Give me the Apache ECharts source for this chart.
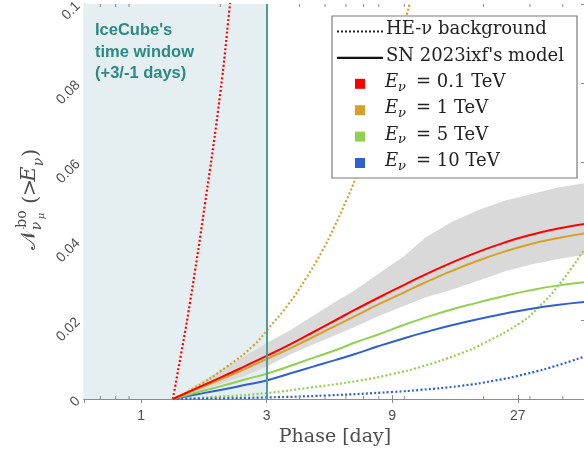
<!DOCTYPE html>
<html>
<head>
<meta charset="utf-8">
<script src="https://cdn.jsdelivr.net/npm/echarts@6/dist/echarts.min.js"></script>
<style>
  html, body { margin: 0; padding: 0; background: #ffffff; }
  #chart { width: 584px; height: 458px; }
</style>
</head>
<body>
<div id="chart"></div>
<script>
// Phase axis limits (days) and the IceCube +3/-1 day window
const xMin = 0.607;
const xMax = 49;
const windowStart = 0.607;
const windowEnd = 3;
const xTickLabels = [1, 3, 9, 27];
const minorTickDays = [0.7, 0.8, 0.9, 2, 4, 5, 6, 7, 8, 10, 20, 30, 40];

// SN 2023ixf model curves (solid) and uncertainty band
const modelDays  = [1.32, 1.6, 2, 2.5, 3, 3.7, 4.5, 5.5, 6.5, 8, 10, 12, 15, 19, 24, 30, 38, 49];
const modelRed   = [0, 0.0025, 0.0054, 0.0084, 0.0109, 0.0139, 0.0169, 0.0200, 0.0226, 0.0257, 0.0289, 0.0315, 0.0344, 0.0372, 0.0396, 0.0415, 0.0431, 0.0444];
const modelGold  = [0, 0.0023, 0.0049, 0.0077, 0.0101, 0.0129, 0.0157, 0.0186, 0.0210, 0.0240, 0.0270, 0.0295, 0.0323, 0.0350, 0.0373, 0.0392, 0.0407, 0.0420];
const modelGreen = [0, 0.0015, 0.0032, 0.0050, 0.0064, 0.0084, 0.0104, 0.0124, 0.0143, 0.0164, 0.0188, 0.0206, 0.0226, 0.0244, 0.0261, 0.0275, 0.0287, 0.0296];
const modelBlue  = [0, 0.0011, 0.0023, 0.0036, 0.0047, 0.0065, 0.0082, 0.0099, 0.0114, 0.0134, 0.0154, 0.0169, 0.0186, 0.0202, 0.0216, 0.0228, 0.0238, 0.0246];
const bandUpper  = [0, 0.0034, 0.0072, 0.0110, 0.0142, 0.0175, 0.0211, 0.0247, 0.0276, 0.0318, 0.0362, 0.0408, 0.0447, 0.0478, 0.0502, 0.0518, 0.0535, 0.0547];
const bandLower  = [0, 0.0017, 0.0038, 0.0060, 0.0082, 0.0113, 0.0138, 0.0162, 0.0183, 0.0210, 0.0236, 0.0257, 0.0276, 0.0299, 0.0323, 0.0340, 0.0354, 0.0366];

// HE-nu background (dotted)
const bgRedDays   = [1.32, 1.42, 1.535, 1.75, 2.0, 2.17, 2.3];
const bgRed       = [0, 0.0115, 0.0245, 0.0495, 0.0775, 0.0990, 0.1140];
const bgGoldDays  = [1.32, 1.58, 2.12, 2.67, 3.05, 3.63, 4.2, 4.87, 5.38, 6.06, 6.52, 8.1, 9.22, 10.5, 11.2];
const bgGold      = [0, 0.0026, 0.0082, 0.0135, 0.0179, 0.0240, 0.0302, 0.0374, 0.0431, 0.0507, 0.0558, 0.0735, 0.0860, 0.1003, 0.1080];
const bgGreenDays = [1.32, 2.0, 3.0, 4.39, 6.8, 9.1, 11.5, 16.3, 20.0, 27.6, 31.9, 39.0, 49];
const bgGreen     = [0, 0.0006, 0.0015, 0.0029, 0.0047, 0.0064, 0.0081, 0.0115, 0.0141, 0.0193, 0.0228, 0.0292, 0.0385];
const bgBlueDays  = [1.32, 3.0, 5.08, 9.1, 11.5, 16.3, 21.8, 29.2, 39.0, 49];
const bgBlue      = [0, 0.0004, 0.0009, 0.0018, 0.0023, 0.0033, 0.0046, 0.0064, 0.0087, 0.0109];

const energyLabels = ['0.1', '1', '5', '10'];
const colors = ['#ff0000', '#d6a12a', '#92d050', '#3060d0'];

const pairs = (xs, ys) => xs.map((x, i) => [x, ys[i]]);
const axisGray = '#8c8c8c';
const textGray = '#4d4d4d';
const serif = '"DejaVu Serif", serif';

const chart = echarts.init(document.getElementById('chart'), null, { renderer: 'canvas' });

function solid(name, days, vals, color, z) {
  return {
    name, type: 'line', data: pairs(days, vals), symbol: 'none', smooth: 0.5,
    lineStyle: { color, width: 2 }, z, silent: true
  };
}
function dotted(name, days, vals, color) {
  return {
    name, type: 'line', data: pairs(days, vals), symbol: 'none', smooth: 0.5,
    lineStyle: { color, width: 2.2, type: [2, 2.2] }, z: 3, silent: true
  };
}

const legendRows = [29.5, 55.9, 82.3, 108.7, 135.1, 161.5];
const legendChildren = [
  { type: 'rect', shape: { x: 332, y: 16, width: 245, height: 162 }, style: { fill: '#ffffff', stroke: '#7a7a7a', lineWidth: 1.2 } },
  { type: 'line', shape: { x1: 337, y1: legendRows[0] + 2, x2: 383, y2: legendRows[0] + 2 }, style: { stroke: '#222', lineWidth: 2, lineDash: [2, 2] } },
  { type: 'text', x: 386, y: legendRows[0], style: { text: 'HE-ν background', font: '18px ' + serif, fill: '#222', verticalAlign: 'middle' } },
  { type: 'line', shape: { x1: 337, y1: legendRows[1] + 2, x2: 383, y2: legendRows[1] + 2 }, style: { stroke: '#111', lineWidth: 2.4 } },
  { type: 'text', x: 386, y: legendRows[1], style: { text: "SN 2023ixf's model", font: '18px ' + serif, fill: '#222', verticalAlign: 'middle' } }
];
energyLabels.forEach((e, i) => {
  const y = legendRows[i + 2];
  legendChildren.push(
    { type: 'rect', shape: { x: 355, y: y - 3.5, width: 10, height: 10 }, style: { fill: colors[i] } },
    { type: 'text', x: 385, y, style: { text: 'E', font: 'italic 18px ' + serif, fill: '#222', verticalAlign: 'middle' } },
    { type: 'text', x: 398, y: y + 5, style: { text: 'ν', font: 'italic 13px ' + serif, fill: '#222', verticalAlign: 'middle' } },
    { type: 'text', x: 416, y, style: { text: '= ' + e + ' TeV', font: '18px ' + serif, fill: '#222', verticalAlign: 'middle' } }
  );
});
legendChildren.forEach(c => { c.z = 100; c.silent = true; });

const yTitle = {
  type: 'group', x: 37, y: 200, rotation: Math.PI / 2, silent: true,
  children: [
    { type: 'text', x: -40, y: -7, style: { text: '𝒩', font: '21px ' + serif, fill: textGray, align: 'center', verticalAlign: 'middle' } },
    { type: 'text', x: -19, y: -15, style: { text: 'bo', font: '14px ' + serif, fill: textGray, align: 'center', verticalAlign: 'middle' } },
    { type: 'text', x: -26, y: 0, style: { text: 'ν', font: 'italic 14px ' + serif, fill: textGray, align: 'center', verticalAlign: 'middle' } },
    { type: 'text', x: -16, y: 4, style: { text: 'μ', font: 'italic 10px ' + serif, fill: textGray, align: 'center', verticalAlign: 'middle' } },
    { type: 'text', x: 0, y: -5, style: { text: '(', font: '21px ' + serif, fill: textGray, align: 'center', verticalAlign: 'middle' } },
    { type: 'text', x: 12.5, y: -6, style: { text: '>', font: '21px ' + serif, fill: textGray, align: 'center', verticalAlign: 'middle' } },
    { type: 'text', x: 26, y: -7, style: { text: 'E', font: 'italic 21px ' + serif, fill: textGray, align: 'center', verticalAlign: 'middle' } },
    { type: 'text', x: 38, y: 2, style: { text: 'ν', font: 'italic 14px ' + serif, fill: textGray, align: 'center', verticalAlign: 'middle' } },
    { type: 'text', x: 47, y: -5, style: { text: ')', font: '21px ' + serif, fill: textGray, align: 'center', verticalAlign: 'middle' } }
  ]
};

const iceText = ["IceCube's", 'time window', '(+3/-1 days)'].map((t, i) => ({
  type: 'text', x: 95, y: 30.5 + i * 21.7, z: 50, silent: true,
  style: { text: t, font: 'bold 16.5px "Liberation Sans", Arial, sans-serif', fill: '#2b8a84', verticalAlign: 'middle' }
}));

const xAxisCommon = {
  type: 'log', logBase: 3, min: xMin, max: xMax,
  axisLine: { show: true, lineStyle: { color: axisGray, width: 1.2 } },
  axisTick: { show: true, inside: true, length: 4, lineStyle: { color: axisGray } },
  splitLine: { show: false }, minorTick: { show: false }, minorSplitLine: { show: false }
};
const yAxisCommon = {
  type: 'value', min: 0, max: 0.1, interval: 0.02,
  axisLine: { show: true, lineStyle: { color: axisGray, width: 1.2 } },
  axisTick: { show: true, inside: true, length: 5, lineStyle: { color: axisGray } },
  splitLine: { show: false }
};

const option = {
  animation: false,
  backgroundColor: '#ffffff',
  grid: { left: 84, top: 4, width: 502, height: 395, outerBoundsMode: 'none', containLabel: false },
  xAxis: [
    Object.assign({}, xAxisCommon, {
      position: 'bottom',
      name: 'Phase [day]', nameLocation: 'middle', nameGap: 28,
      nameTextStyle: { fontFamily: 'DejaVu Serif', fontSize: 19, color: textGray },
      axisLabel: {
        show: true, margin: 10, color: textGray, fontSize: 14, fontFamily: 'Liberation Sans, Arial, sans-serif',
        showMinLabel: false, showMaxLabel: false,
        formatter: v => (xTickLabels.some(t => Math.abs(t - v) < 1e-6) ? String(Math.round(v)) : '')
      }
    }),
    Object.assign({}, xAxisCommon, { position: 'top', axisLabel: { show: false } })
  ],
  yAxis: [
    Object.assign({}, yAxisCommon, {
      position: 'left',
      axisLabel: {
        show: true, rotate: 45, margin: 6, color: textGray, fontSize: 14,
        fontFamily: 'Liberation Sans, Arial, sans-serif',
        formatter: v => String(+v.toFixed(2))
      }
    }),
    Object.assign({}, yAxisCommon, { position: 'right', axisLabel: { show: false } })
  ],
  graphic: [yTitle].concat(iceText, legendChildren),
  series: [
    {
      // IceCube window shading
      name: 'window', type: 'line', data: [], z: 1, silent: true,
      markArea: {
        silent: true, itemStyle: { color: '#e5eef0' },
        data: [[{ xAxis: windowStart, yAxis: 0 }, { xAxis: windowEnd, yAxis: 0.1 }]]
      }
    },
    {
      // uncertainty band of the model, upper edge forward then lower edge back
      name: 'band', type: 'custom', z: 2, silent: true,
      data: [[modelDays[0], 0]], encode: { x: 0, y: 1 },
      renderItem: (params, api) => {
        const pts = [];
        modelDays.forEach((d, i) => pts.push(api.coord([d, bandUpper[i]])));
        for (let i = modelDays.length - 1; i >= 0; i--) pts.push(api.coord([modelDays[i], bandLower[i]]));
        return {
          type: 'polygon', shape: { points: pts },
          style: { fill: '#d9d9d9' },
          clipPath: { type: 'rect', shape: { x: params.coordSys.x, y: params.coordSys.y, width: params.coordSys.width, height: params.coordSys.height } }
        };
      }
    },
    dotted('bg-red', bgRedDays, bgRed, colors[0]),
    dotted('bg-gold', bgGoldDays, bgGold, colors[1]),
    dotted('bg-green', bgGreenDays, bgGreen, colors[2]),
    dotted('bg-blue', bgBlueDays, bgBlue, colors[3]),
    solid('sn-blue', modelDays, modelBlue, colors[3], 4),
    solid('sn-green', modelDays, modelGreen, colors[2], 4),
    solid('sn-gold', modelDays, modelGold, colors[1], 4),
    solid('sn-red', modelDays, modelRed, colors[0], 4),
    {
      // window edge at +3 days
      name: 'window-edge', type: 'line', data: [], z: 6, silent: true,
      markLine: {
        silent: true, symbol: ['none', 'none'], label: { show: false },
        lineStyle: { color: '#4a9d98', width: 2, type: 'solid' },
        data: [[{ coord: [windowEnd, 0] }, { coord: [windowEnd, 0.1] }]]
      }
    },
    {
      // minor ticks on the log phase axis (bottom and top)
      name: 'minor-ticks', type: 'custom', z: 7, silent: true, clip: false,
      data: minorTickDays.map(d => [d, 0]),
      encode: { x: 0, y: 1 },
      renderItem: (params, api) => {
        const b = api.coord([api.value(0), 0]);
        const t = api.coord([api.value(0), 0.1]);
        const st = { stroke: axisGray, lineWidth: 1 };
        return {
          type: 'group', children: [
            { type: 'line', shape: { x1: b[0], y1: b[1], x2: b[0], y2: b[1] - 3 }, style: st },
            { type: 'line', shape: { x1: t[0], y1: t[1], x2: t[0], y2: t[1] + 3 }, style: st }
          ]
        };
      }
    }
  ]
};

chart.setOption(option);
</script>
</body>
</html>
